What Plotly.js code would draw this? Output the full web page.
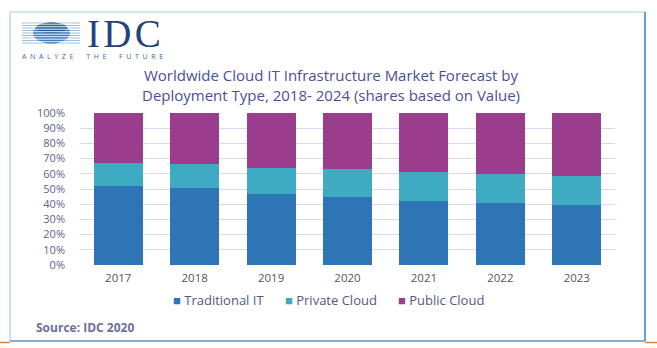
<!DOCTYPE html>
<html>
<head>
<meta charset="utf-8">
<script src="https://cdn.plot.ly/plotly-3.0.1.min.js"></script>
<style>html,body{margin:0;padding:0;background:#fff}#chart{width:657px;height:348px}</style>
</head>
<body>
<div id="chart"></div>
<script>
const years = ['2017', '2018', '2019', '2020', '2021', '2022', '2023'];
const traditionalIT = [52, 50.5, 47, 44.5, 42.3, 41, 39.5];
const privateCloud = [15.3, 15.9, 16.8, 18.5, 18.9, 18.9, 19.1];
const publicCloud = [32.7, 33.6, 36.2, 37, 38.8, 40.1, 41.4];
const seriesNames = ['Traditional IT', 'Private Cloud', 'Public Cloud'];
const yTickVals = [0, 10, 20, 30, 40, 50, 60, 70, 80, 90, 100];
const yTickText = ['0%', '10%', '20%', '30%', '40%', '50%', '60%', '70%', '80%', '90%', '100%'];
const titleLines = ['Worldwide Cloud IT Infrastructure Market Forecast by', 'Deployment Type, 2018- 2024 (shares based on Value)'];
const sourceText = 'Source: IDC 2020';
const logoText = 'IDC';
const taglineWords = ['ANALYZE', 'THE', 'FUTURE'];

const W = 657, H = 348;
const M = {l: 80, r: 42, t: 113, b: 83};
const PW = W - M.l - M.r, PH = H - M.t - M.b;
const px = x => (x - M.l) / PW;
const py = y => (H - M.b - y) / PH;

const colors = ['#2e75b6', '#3eabc3', '#9a3d8c'];
const font = 'Open Sans, Noto Sans, sans-serif';

const traces = [traditionalIT, privateCloud, publicCloud].map((vals, i) => ({
  type: 'bar', x: years, y: vals, name: seriesNames[i],
  marker: {color: colors[i], line: {width: 0}}, hoverinfo: 'x+y+name', showlegend: false
}));

const shapes = [];
// frame
shapes.push({type: 'line', xref: 'paper', yref: 'paper', x0: px(10), x1: px(10), y0: py(12), y1: py(341), line: {color: '#9cc3dc', width: 1}});
shapes.push({type: 'line', xref: 'paper', yref: 'paper', x0: px(10), x1: px(645), y0: py(12), y1: py(12), line: {color: '#a8cfdc', width: 1.2}});
shapes.push({type: 'line', xref: 'paper', yref: 'paper', x0: px(645), x1: px(645), y0: py(12), y1: py(341), line: {color: '#6e9bd0', width: 2}});
shapes.push({type: 'line', xref: 'paper', yref: 'paper', x0: px(10), x1: px(645), y0: py(341), y1: py(341), line: {color: '#5e95c4', width: 1.5}});
shapes.push({type: 'line', xref: 'paper', yref: 'paper', x0: px(0), x1: px(10), y0: py(342.5), y1: py(342.5), line: {color: '#ed7d31', width: 1.5}});
shapes.push({type: 'line', xref: 'paper', yref: 'paper', x0: px(645), x1: px(657), y0: py(342.5), y1: py(342.5), line: {color: '#ed7d31', width: 1.5}});
// logo stripes
for (let k = 0; k < 9; k++) {
  const yy = 23 + k * 2.5;
  shapes.push({type: 'line', xref: 'paper', yref: 'paper', x0: px(22), x1: px(80), y0: py(yy), y1: py(yy), line: {color: '#9fbfdf', width: 1}});
}
// globe
shapes.push({type: 'circle', xref: 'paper', yref: 'paper', x0: px(33), x1: px(70), y0: py(22.5), y1: py(43.5), fillcolor: '#3f7fbf', line: {width: 0}});
shapes.push({type: 'circle', xref: 'paper', yref: 'paper', x0: px(36), x1: px(67), y0: py(22.5), y1: py(33), fillcolor: '#245d96', line: {width: 0}});
for (let k = 0; k < 8; k++) {
  const yy = 24.2 + k * 2.5;
  shapes.push({type: 'line', xref: 'paper', yref: 'paper', x0: px(30), x1: px(73), y0: py(yy), y1: py(yy), line: {color: '#ffffff', width: 0.9}});
}

const nb = n => '\u00a0'.repeat(n);
const tagline = taglineWords.map(w => w.split('').join(nb(2))).join(nb(7));

const annotations = [
  {text: logoText.split('').join('\u200A'), xref: 'paper', yref: 'paper', x: px(86), y: py(33.5), xanchor: 'left', yanchor: 'middle', showarrow: false,
   borderpad: 0, font: {family: 'Liberation Serif, DejaVu Serif, serif', size: 39, color: '#23437a'}},
  {text: tagline, xref: 'paper', yref: 'paper', x: px(21), y: py(56.5), xanchor: 'left', yanchor: 'middle', showarrow: false,
   borderpad: 0, font: {family: font, size: 7, color: '#3c6a9a'}},
  {text: titleLines.join('<br>'), xref: 'paper', yref: 'paper', x: px(331), y: py(85), xanchor: 'center', yanchor: 'middle', showarrow: false,
   font: {family: font, size: 15, color: '#4a4f9b'}},
  {text: '<b>' + sourceText + '</b>', xref: 'paper', yref: 'paper', x: px(34), y: py(327), xanchor: 'left', yanchor: 'middle', showarrow: false,
   font: {family: font, size: 12, color: '#6c6e9e'}}
];

// legend built as annotations
const legendX = [171, 283, 396];
seriesNames.forEach((name, i) => {
  annotations.push({
    text: '<span style="color:' + colors[i] + '">\u25A0</span> ' + name,
    xref: 'paper', yref: 'paper', x: px(legendX[i]), y: py(300), xanchor: 'left', yanchor: 'middle', showarrow: false,
    font: {family: font, size: 13, color: '#545880'}
  });
});

const layout = {
  width: W, height: H,
  margin: M,
  paper_bgcolor: '#ffffff', plot_bgcolor: '#ffffff',
  barmode: 'stack', bargap: 0.36,
  showlegend: false,
  xaxis: {type: 'category', tickfont: {family: font, size: 11.5, color: '#555555'}, showgrid: false, zeroline: false,
    showline: false, ticks: '', ticklabelstandoff: 4},
  yaxis: {range: [0, 100], tickvals: yTickVals, ticktext: yTickText, showgrid: true, gridcolor: '#d9d8ee', gridwidth: 1,
    zeroline: false, showline: false, ticks: '', ticklabelstandoff: 14,
    tickfont: {family: font, size: 11, color: '#60628f'}},
  shapes: shapes,
  annotations: annotations,
  font: {family: font}
};

Plotly.newPlot('chart', traces, layout, {displayModeBar: false, staticPlot: true});
</script>
</body>
</html>
